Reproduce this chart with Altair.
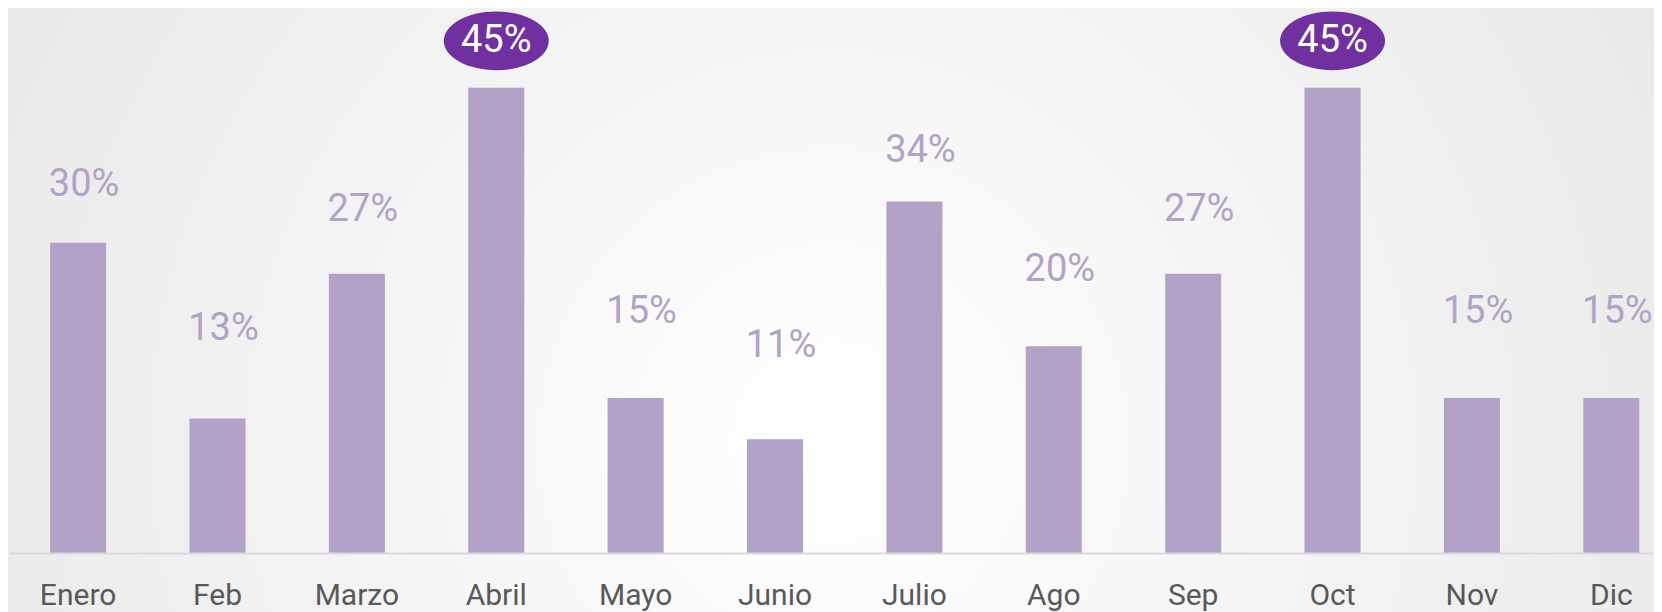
import altair as alt
import pandas as pd

months = ["Enero", "Feb", "Marzo", "Abril", "Mayo", "Junio",
          "Julio", "Ago", "Sep", "Oct", "Nov", "Dic"]
values = [30, 13, 27, 45, 15, 11, 34, 20, 27, 45, 15, 15]

df = pd.DataFrame({"mes": months, "valor": values})
df["label"] = df["valor"].astype(str) + "%"
hi = max(values)

W, H = 1645, 517
FONT = "Roboto"
BAR = "#B3A2C7"
HL = "#7030A0"

x_enc = alt.X(
    "mes:N", sort=months,
    scale=alt.Scale(paddingInner=0.598, paddingOuter=0.2, align=0.737),
    axis=alt.Axis(title=None, labelFontSize=30, labelColor="#595959", labelFont=FONT,
                  ticks=False, domainColor="#D9D9D9", domainWidth=2, labelPadding=27,
                  labelAngle=0, grid=False, zindex=1),
)

bg = alt.Chart(alt.Data(values=[{"a": 1}])).mark_rect(
    fill={
        "gradient": "radial",
        "x1": 0.5, "y1": 0.58, "r1": 0,
        "x2": 0.5, "y2": 0.58, "r2": 0.75,
        "stops": [
            {"offset": 0, "color": "#ffffff"},
            {"offset": 1, "color": "#e2e2e2"},
        ],
    }
).encode(
    x=alt.value(-10), x2=alt.value(W + 10),
    y=alt.value(-40), y2=alt.value(H + 70),
)

bars = alt.Chart(df).mark_bar(color=BAR).encode(
    x=x_enc,
    y=alt.Y("valor:Q", scale=alt.Scale(domain=[0, 50], nice=False), axis=None),
)

lab_scale = alt.Scale(domain=[-13.46, 47.58], nice=False, zero=False)

labels = alt.Chart(df).transform_filter(alt.datum.valor < hi).mark_text(
    color=BAR, font=FONT, fontSize=38, baseline="middle", dx=6
).encode(
    x=x_enc,
    y=alt.Y("valor:Q", scale=lab_scale, axis=None),
    text="label:N",
)

ell = alt.Chart(df).transform_filter(alt.datum.valor == hi).mark_point(
    shape="M -1 0 A 1 0.56 0 1 1 1 0 A 1 0.56 0 1 1 -1 0 Z",
    filled=True, color=HL, opacity=1, size=105 * 105, yOffset=-17,
).encode(
    x=x_enc,
    y=alt.Y("valor:Q", scale=lab_scale, axis=None),
)

top_labels = alt.Chart(df).transform_filter(alt.datum.valor == hi).mark_text(
    color="white", font=FONT, fontSize=38, baseline="middle", yOffset=-17
).encode(
    x=x_enc,
    y=alt.Y("valor:Q", scale=lab_scale, axis=None),
    text="label:N",
)

chart = alt.layer(bg, bars, labels, ell, top_labels).resolve_scale(
    y="independent"
).properties(
    width=W, height=H,
    autosize=alt.AutoSizeParams(type="none"),
    padding={"left": 1, "top": 28, "right": 0, "bottom": 60},
    background="#e6e6e6",
).configure_view(stroke=None)

chart.save("out.html", embed_options={"renderer": "svg", "actions": False})
